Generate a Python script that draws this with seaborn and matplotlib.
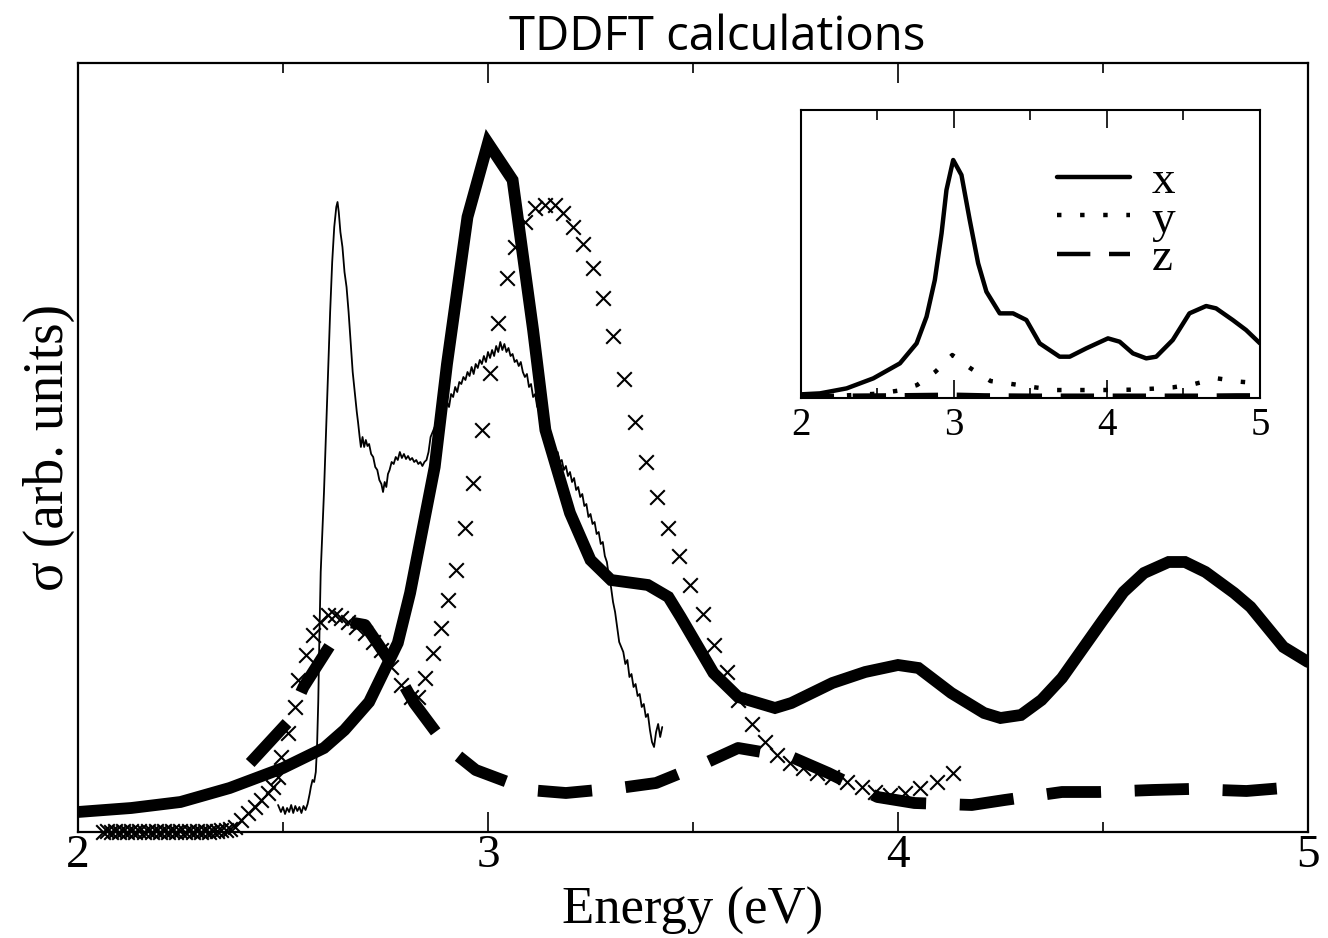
import numpy as np
import pandas as pd
import matplotlib
matplotlib.use("Agg")
import matplotlib.pyplot as plt
import seaborn as sns
from matplotlib.ticker import MultipleLocator

# ---------------- data (arbitrary units) ----------------
# thick solid TDDFT curve
tddft_x_e = [2.00, 2.13, 2.25, 2.37, 2.50, 2.60, 2.65, 2.71, 2.78, 2.81, 2.87, 2.90,
             2.95, 3.00, 3.06, 3.11, 3.14, 3.20, 3.25, 3.30, 3.39, 3.44, 3.47, 3.55,
             3.61, 3.70, 3.74, 3.84, 3.92, 4.00, 4.05, 4.13, 4.21, 4.25, 4.30, 4.35,
             4.40, 4.50, 4.55, 4.60, 4.66, 4.70, 4.75, 4.82, 4.86, 4.94, 5.00]
tddft_x_s = [0.20, 0.24, 0.30, 0.44, 0.64, 0.84, 1.02, 1.30, 1.89, 2.39, 3.65, 4.68,
             6.15, 6.89, 6.52, 5.02, 4.02, 3.19, 2.72, 2.52, 2.47, 2.35, 2.15, 1.59,
             1.35, 1.24, 1.29, 1.49, 1.60, 1.67, 1.64, 1.39, 1.19, 1.14, 1.17, 1.32,
             1.54, 2.12, 2.40, 2.59, 2.70, 2.70, 2.60, 2.39, 2.25, 1.85, 1.70]

# thick dashed curve
tddft_z_e = [2.42, 2.51, 2.55, 2.62, 2.66, 2.70, 2.77, 2.82, 2.90,
             2.97, 3.10, 3.19, 3.32, 3.41, 3.53, 3.61, 3.74, 3.83, 3.95, 4.04, 4.18,
             4.26, 4.40, 4.49, 4.62, 4.71, 4.85, 4.94, 5.00]
tddft_z_s = [0.69, 1.09, 1.45, 1.90, 2.10, 2.07, 1.65, 1.29, 0.85,
             0.62, 0.42, 0.39, 0.44, 0.49, 0.69, 0.84, 0.75, 0.59, 0.35, 0.29, 0.27,
             0.32, 0.40, 0.40, 0.42, 0.43, 0.41, 0.44, 0.47]

# thin noisy experimental curve
exp_e = [2.488, 2.495, 2.500, 2.505, 2.510, 2.515, 2.520, 2.525, 2.530, 2.535, 2.540,
         2.545, 2.550, 2.555, 2.560, 2.565, 2.568, 2.572, 2.576, 2.580, 2.583, 2.586,
         2.589, 2.592, 2.596, 2.600, 2.605, 2.610, 2.615, 2.620, 2.625, 2.630, 2.633,
         2.636, 2.640, 2.645, 2.650, 2.655, 2.660, 2.665, 2.670, 2.675, 2.680, 2.683,
         2.687, 2.690, 2.694, 2.698, 2.702, 2.706, 2.710, 2.715, 2.720, 2.725, 2.730,
         2.735, 2.740, 2.744, 2.748, 2.752, 2.756, 2.760, 2.765, 2.770, 2.775, 2.780,
         2.785, 2.790, 2.795, 2.800, 2.805, 2.810, 2.815, 2.820, 2.825, 2.830, 2.835,
         2.840, 2.845, 2.850, 2.855, 2.860, 2.865, 2.870, 2.875, 2.880, 2.885, 2.890,
         2.895, 2.900, 2.905, 2.910, 2.915, 2.920, 2.925, 2.930, 2.935, 2.940, 2.945,
         2.950, 2.955, 2.960, 2.965, 2.970, 2.975, 2.980, 2.985, 2.990, 2.995, 3.000,
         3.005, 3.010, 3.015, 3.020, 3.025, 3.030, 3.035, 3.040, 3.045, 3.050, 3.055,
         3.060, 3.065, 3.070, 3.075, 3.080, 3.085, 3.090, 3.095, 3.100, 3.105, 3.110,
         3.115, 3.120, 3.125, 3.130, 3.135, 3.140, 3.145, 3.150, 3.155, 3.160, 3.165,
         3.170, 3.175, 3.180, 3.185, 3.190, 3.195, 3.200, 3.205, 3.210, 3.215, 3.220,
         3.225, 3.230, 3.235, 3.240, 3.245, 3.250, 3.255, 3.260, 3.265, 3.270, 3.275,
         3.280, 3.285, 3.290, 3.295, 3.300, 3.305, 3.310, 3.315, 3.320, 3.325, 3.330,
         3.335, 3.340, 3.345, 3.350, 3.355, 3.360, 3.365, 3.370, 3.375, 3.380, 3.385,
         3.390, 3.395, 3.400, 3.405, 3.410, 3.415, 3.420, 3.425]
exp_s = [0.27, 0.20, 0.25, 0.18, 0.24, 0.20, 0.27, 0.19, 0.26, 0.21, 0.25,
         0.19, 0.26, 0.22, 0.28, 0.38, 0.45, 0.52, 0.50, 0.60, 0.85, 1.30,
         2.00, 2.60, 3.00, 3.40, 4.00, 4.60, 5.20, 5.70, 6.05, 6.25, 6.30,
         6.20, 6.00, 5.85, 5.60, 5.45, 5.20, 4.90, 4.60, 4.40, 4.20, 4.10,
         3.95, 3.85, 3.95, 3.85, 3.92, 3.86, 3.88, 3.78, 3.75, 3.65, 3.62,
         3.52, 3.48, 3.40, 3.50, 3.45, 3.58, 3.62, 3.70, 3.68, 3.75, 3.72,
         3.80, 3.74, 3.78, 3.73, 3.76, 3.72, 3.74, 3.70, 3.72, 3.68, 3.70,
         3.66, 3.70, 3.72, 3.80, 3.95, 4.00, 4.05, 4.10, 4.08, 4.15, 4.20,
         4.18, 4.30, 4.25, 4.38, 4.35, 4.45, 4.40, 4.50, 4.48, 4.55, 4.52,
         4.60, 4.56, 4.65, 4.58, 4.68, 4.64, 4.72, 4.68, 4.76, 4.70, 4.80,
         4.74, 4.82, 4.76, 4.86, 4.80, 4.90, 4.82, 4.88, 4.80, 4.84, 4.76,
         4.78, 4.70, 4.72, 4.66, 4.70, 4.60, 4.55, 4.58, 4.45, 4.48, 4.35,
         4.38, 4.25, 4.30, 4.12, 4.05, 4.02, 3.92, 3.95, 3.85, 3.88, 3.78,
         3.80, 3.70, 3.72, 3.62, 3.66, 3.56, 3.60, 3.50, 3.54, 3.42, 3.45,
         3.35, 3.38, 3.26, 3.28, 3.15, 3.18, 3.08, 3.10, 2.98, 3.00, 2.88,
         2.90, 2.76, 2.70, 2.55, 2.45, 2.30, 2.20, 2.05, 1.90, 1.85, 1.80,
         1.68, 1.72, 1.55, 1.58, 1.45, 1.48, 1.36, 1.38, 1.25, 1.28, 1.15,
         1.18, 1.02, 0.90, 0.85, 1.00, 1.08, 0.95, 1.05]

# cross markers
cross_e = [2.060, 2.070, 2.080, 2.090, 2.100, 2.110, 2.120, 2.130, 2.140, 2.150,
           2.160, 2.170, 2.180, 2.190, 2.200, 2.210, 2.220, 2.230, 2.240, 2.250,
           2.260, 2.270, 2.280, 2.290, 2.300, 2.310, 2.320, 2.330, 2.340, 2.350,
           2.360, 2.370, 2.383, 2.398, 2.415, 2.432, 2.446, 2.463, 2.476, 2.488,
           2.495, 2.512, 2.529, 2.537, 2.556, 2.573, 2.590, 2.610, 2.627, 2.641,
           2.659, 2.678, 2.700, 2.720, 2.739, 2.763, 2.788, 2.812, 2.829, 2.846,
           2.866, 2.885, 2.902, 2.922, 2.944, 2.963, 2.985, 3.005, 3.024, 3.046,
           3.066, 3.090, 3.115, 3.139, 3.163, 3.183, 3.207, 3.232, 3.256, 3.280,
           3.305, 3.332, 3.359, 3.385, 3.412, 3.439, 3.466, 3.493, 3.524, 3.551,
           3.583, 3.610, 3.644, 3.676, 3.705, 3.737, 3.768, 3.802, 3.839, 3.876,
           3.912, 3.944, 3.980, 4.017, 4.054, 4.095, 4.134]
cross_s = [0.00, 0.01, 0.00, 0.01, 0.00, 0.01, 0.00, 0.01, 0.00, 0.01,
           0.00, 0.01, 0.00, 0.01, 0.00, 0.01, 0.00, 0.01, 0.00, 0.01,
           0.00, 0.01, 0.00, 0.01, 0.00, 0.01, 0.00, 0.01, 0.01, 0.02,
           0.02, 0.03, 0.05, 0.12, 0.19, 0.25, 0.32, 0.39, 0.45, 0.55,
           0.75, 0.99, 1.25, 1.52, 1.77, 1.97, 2.10, 2.17, 2.17, 2.14,
           2.10, 2.05, 1.99, 1.90, 1.82, 1.65, 1.47, 1.35, 1.35, 1.54,
           1.79, 2.04, 2.32, 2.62, 3.04, 3.49, 4.02, 4.59, 5.09, 5.54,
           5.85, 6.10, 6.24, 6.27, 6.27, 6.19, 6.05, 5.88, 5.64, 5.34,
           4.96, 4.53, 4.10, 3.70, 3.35, 3.04, 2.76, 2.47, 2.18, 1.87,
           1.60, 1.32, 1.08, 0.90, 0.77, 0.69, 0.64, 0.59, 0.55, 0.50,
           0.45, 0.40, 0.37, 0.39, 0.44, 0.50, 0.59]

# inset curves
inset_x_e = [2.000, 2.126, 2.300, 2.474, 2.648, 2.757, 2.822, 2.876, 2.920, 2.952,
             2.996, 3.050, 3.104, 3.159, 3.213, 3.300, 3.387, 3.474, 3.561, 3.691,
             3.757, 3.865, 4.007, 4.083, 4.170, 4.257, 4.322, 4.430, 4.539, 4.648,
             4.713, 4.822, 4.909, 5.000]
inset_x_s = [0.10, 0.13, 0.28, 0.58, 1.03, 1.63, 2.43, 3.53, 4.93, 6.23,
             7.13, 6.68, 5.33, 4.03, 3.18, 2.53, 2.53, 2.33, 1.63, 1.23,
             1.23, 1.48, 1.78, 1.68, 1.33, 1.18, 1.23, 1.73, 2.53, 2.75,
             2.68, 2.33, 2.03, 1.63]
inset_y_e = [2.00, 2.30, 2.50, 2.65, 2.76, 2.88, 2.99, 3.11, 3.24, 3.38, 3.53,
             3.67, 3.83, 3.97, 4.15, 4.30, 4.43, 4.57, 4.72, 4.87, 4.95]
inset_y_s = [0.04, 0.07, 0.12, 0.22, 0.38, 0.78, 1.28, 0.88, 0.50, 0.41, 0.31,
             0.23, 0.23, 0.23, 0.24, 0.27, 0.31, 0.41, 0.58, 0.48, 0.45]
inset_z_e = [2.00, 2.30, 2.60, 2.80, 3.00, 3.20, 3.50, 3.80, 4.00, 4.30, 4.60, 4.85, 5.00]
inset_z_s = [0.05, 0.06, 0.07, 0.08, 0.09, 0.07, 0.06, 0.06, 0.06, 0.06, 0.06, 0.07, 0.07]
inset_labels = ["x", "y", "z"]

tick_vals = [2, 3, 4, 5]
tick_text = ["2", "3", "4", "5"]
title_text = "TDDFT calculations"
xlabel_text = "Energy (eV)"
ylabel_text = "σ (arb. units)"

# ---------------- styling ----------------
sns.set_theme(style="white")
plt.rcParams['font.family'] = ['Liberation Serif', 'DejaVu Serif']
plt.rcParams['axes.edgecolor'] = 'black'
plt.rcParams['xtick.color'] = 'black'
plt.rcParams['ytick.color'] = 'black'
plt.rcParams['text.color'] = 'black'
plt.rcParams['axes.labelcolor'] = 'black'

fig = plt.figure(figsize=(13.28, 9.38), dpi=100)
ax = fig.add_axes([0.05873, 0.11301, 0.92620, 0.81983])

sns.lineplot(x=exp_e, y=exp_s, ax=ax, color='black', lw=1.3, sort=False,
             estimator=None, zorder=2)
sns.lineplot(x=tddft_z_e, y=tddft_z_s, ax=ax, color='black', lw=8.5, sort=False,
             estimator=None, linestyle=(0, (4.6, 2.85)), zorder=3)
sns.lineplot(x=tddft_x_e, y=tddft_x_s, ax=ax, color='black', lw=8.5, sort=False,
             estimator=None, zorder=3, solid_joinstyle='miter')
sns.scatterplot(x=cross_e, y=cross_s, ax=ax, marker='x', s=110, color='black',
                linewidth=1.5, zorder=4, clip_on=False)

ax.set_xlim(2, 5)
ax.set_ylim(0, 7.69)
ax.set_yticks([])
ax.xaxis.set_minor_locator(MultipleLocator(0.5))
ax.set_xticks(tick_vals)
ax.set_xticklabels(tick_text)
ax.tick_params(axis='x', which='major', direction='in', length=14.4, width=1.2,
               top=True, bottom=True, labelsize=34, pad=2)
ax.tick_params(axis='x', which='minor', direction='in', length=7.2, width=1.2,
               top=True, bottom=True)
for sp in ax.spines.values():
    sp.set_linewidth(1.6)
    sp.set_color('black')
ax.set_xlabel(xlabel_text, fontsize=38, labelpad=7)
ax.set_ylabel(ylabel_text, fontsize=40, labelpad=2)
ax.set_title(title_text, fontsize=34, family=['Open Sans', 'DejaVu Sans'],
             x=0.5195, pad=9)

# ---------------- inset ----------------
ins = fig.add_axes([0.60294, 0.57601, 0.34586, 0.30672], zorder=5)
ins.set_facecolor('white')
sns.lineplot(x=inset_x_e, y=inset_x_s, ax=ins, color='black', lw=3.2, sort=False,
             estimator=None, label=inset_labels[0])
sns.lineplot(x=inset_y_e, y=inset_y_s, ax=ins, color='black', lw=3.2, sort=False,
             estimator=None, linestyle=(0, (1, 4.2)), label=inset_labels[1])
sns.lineplot(x=inset_z_e, y=inset_z_s, ax=ins, color='black', lw=3.2, sort=False,
             estimator=None, linestyle=(0, (7.5, 4.2)), label=inset_labels[2])
ins.set_xlim(2, 5)
ins.set_ylim(0, 8.63)
ins.set_yticks([])
ins.xaxis.set_minor_locator(MultipleLocator(0.5))
ins.set_xticks(tick_vals)
ins.set_xticklabels(tick_text)
ins.tick_params(axis='x', which='major', direction='in', length=13, width=1.2,
                top=True, bottom=True, labelsize=28, pad=7)
ins.tick_params(axis='x', which='minor', direction='in', length=7.2, width=1.2,
                top=True, bottom=True)
for sp in ins.spines.values():
    sp.set_linewidth(1.5)
    sp.set_color('black')
ins.set_xlabel('')
ins.set_ylabel('')
leg = ins.legend(loc='upper right', bbox_to_anchor=(0.815, 0.825), frameon=False,
                 fontsize=34, handlelength=1.55, handletextpad=0.45,
                 labelspacing=-0.1, borderpad=0, borderaxespad=0)

fig.savefig('out.png', dpi=100)
